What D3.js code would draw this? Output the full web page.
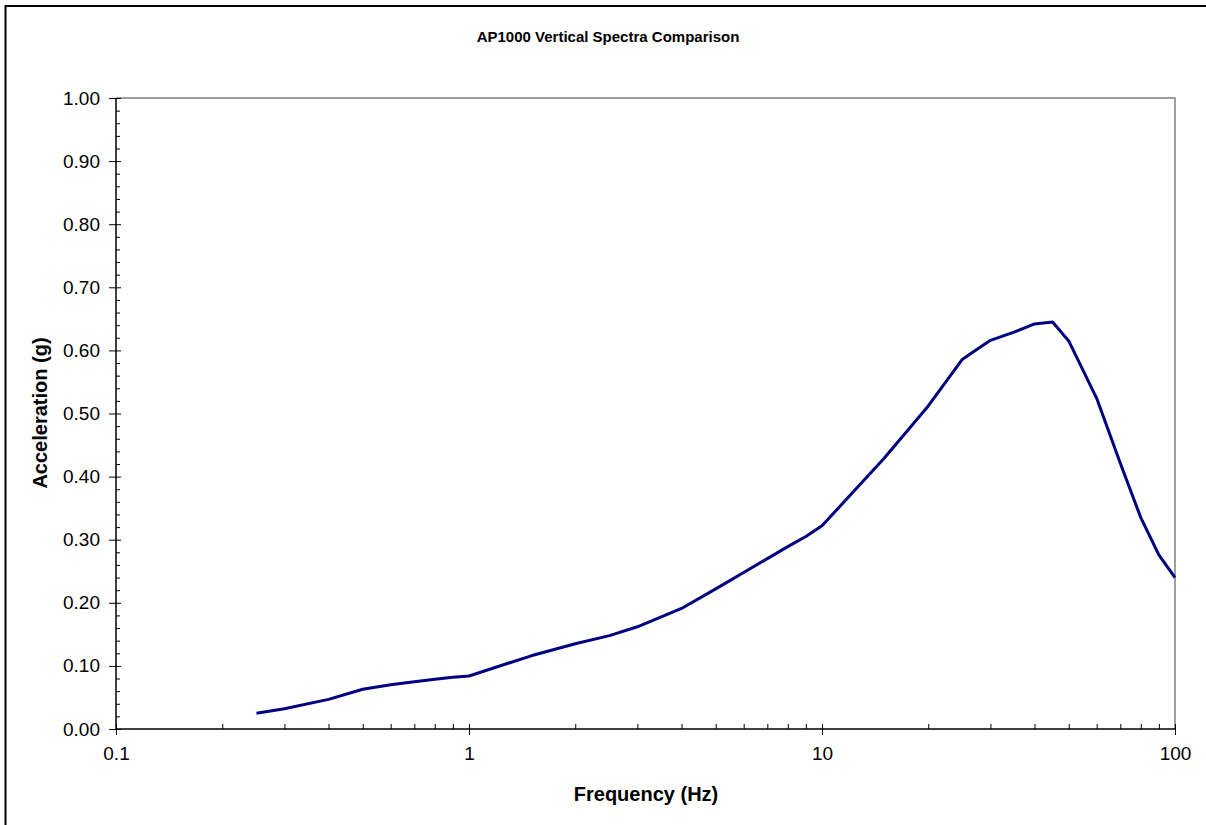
<!DOCTYPE html>
<html lang="en">
<head>
<meta charset="UTF-8">
<title>AP1000 Vertical Spectra Comparison</title>
<script src="https://d3js.org/d3.v7.min.js"></script>
<style>
  body { margin: 0; background: #fff; overflow: hidden; }
  svg { display: block; }
  text { font-family: Arial, "Liberation Sans", sans-serif; }
  .axis path { display: none; }
</style>
</head>
<body>
<svg id="chart" width="1206" height="825"></svg>
<script>
// spectrum
const freq  = [0.25, 0.3, 0.4, 0.5, 0.6, 0.7, 0.8, 0.9, 1, 1.5, 2, 2.5, 3, 4, 5, 6, 7, 8, 9, 10,
               15, 20, 25, 30, 35, 40, 45, 50, 60, 70, 80, 90, 100];
const accel = [0.025, 0.032, 0.047, 0.063, 0.070, 0.075, 0.079, 0.082, 0.084, 0.116, 0.135, 0.148, 0.162, 0.191,
               0.222, 0.248, 0.270, 0.289, 0.305, 0.322,
               0.429, 0.512, 0.586, 0.616, 0.629, 0.642, 0.645, 0.615, 0.524, 0.421, 0.335, 0.276, 0.240];
const xTicks = [0.1, 1, 10, 100];
const yTicks = [0, 0.1, 0.2, 0.3, 0.4, 0.5, 0.6, 0.7, 0.8, 0.9, 1.0];

const svg = d3.select("#chart");
const pLeft = 116, pRight = 1175, pTop = 98, pBottom = 729;

// outer frame (only left & top visible in the picture)
svg.append("path").attr("d", "M5.5,900V6H1300")
  .attr("fill", "none").attr("stroke", "#000").attr("stroke-width", 2);

const x = d3.scaleLog().domain([0.1, 100]).range([pLeft, pRight]);
const y = d3.scaleLinear().domain([0, 1]).range([pBottom, pTop]);

// plot area: gray top/right edges
svg.append("path")
  .attr("d", `M${pLeft},${pTop}H${pRight}V${pBottom}`)
  .attr("fill", "none").attr("stroke", "#808080").attr("stroke-width", 1.5);

// minor ticks
let xMinor = [];
[0.1, 1, 10].forEach(function(d){ for (let k = 2; k < 10; k++) xMinor.push(d * k); });
let yMinor = d3.range(0, 1.0001, 0.02).filter(function(v){ return Math.round(v * 50) % 5 != 0; });

svg.append("g").attr("class", "axis").attr("transform", `translate(0,${pBottom})`)
  .call(d3.axisBottom(x).tickValues(xMinor).tickSize(-5).tickFormat(""))
  .selectAll("line").attr("stroke", "#000");
svg.append("g").attr("class", "axis").attr("transform", `translate(${pLeft},0)`)
  .call(d3.axisLeft(y).tickValues(yMinor).tickSize(-4).tickFormat(""))
  .selectAll("line").attr("stroke", "#000");

// major ticks + labels
let gx = svg.append("g").attr("class", "axis").attr("transform", `translate(0,${pBottom})`)
  .call(d3.axisBottom(x).tickValues(xTicks).tickSize(6).tickPadding(12).tickFormat(function(d){ return String(d); }));
gx.selectAll("line").attr("y1", -5).attr("stroke", "#000");
gx.selectAll("text").attr("font-size", "19px").attr("fill", "#000").attr("font-family", "Arial, 'Liberation Sans', sans-serif");

let gy = svg.append("g").attr("class", "axis").attr("transform", `translate(${pLeft},0)`)
  .call(d3.axisLeft(y).tickValues(yTicks).tickSize(7).tickPadding(9).tickFormat(d3.format(".2f")));
gy.selectAll("line").attr("x1", 5).attr("stroke", "#000");
gy.selectAll("text").attr("font-size", "19px").attr("fill", "#000").attr("font-family", "Arial, 'Liberation Sans', sans-serif");

// axis lines
svg.append("line").attr("x1", pLeft).attr("x2", pRight).attr("y1", pBottom).attr("y2", pBottom)
  .attr("stroke", "#000").attr("stroke-width", 1.5);
svg.append("line").attr("x1", pLeft).attr("x2", pLeft).attr("y1", pTop).attr("y2", pBottom)
  .attr("stroke", "#000").attr("stroke-width", 1.5);

// the curve
let line = d3.line().x(function(d, i){ return x(freq[i]); }).y(function(d){ return y(d); });
svg.append("path").datum(accel)
  .attr("d", line)
  .attr("fill", "none").attr("stroke", "#000080").attr("stroke-width", 3).attr("stroke-linejoin", "round");

// titles
svg.append("text").attr("x", 608).attr("y", 42).attr("text-anchor", "middle")
  .attr("font-size", "15px").attr("font-weight", "bold").text("AP1000 Vertical Spectra Comparison");
svg.append("text").attr("x", 646).attr("y", 801).attr("text-anchor", "middle")
  .attr("font-size", "20px").attr("font-weight", "bold").text("Frequency (Hz)");
svg.append("text").attr("transform", "translate(47,413) rotate(-90)").attr("text-anchor", "middle")
  .attr("font-size", "20px").attr("font-weight", "bold").text("Acceleration (g)");
</script>
</body>
</html>
